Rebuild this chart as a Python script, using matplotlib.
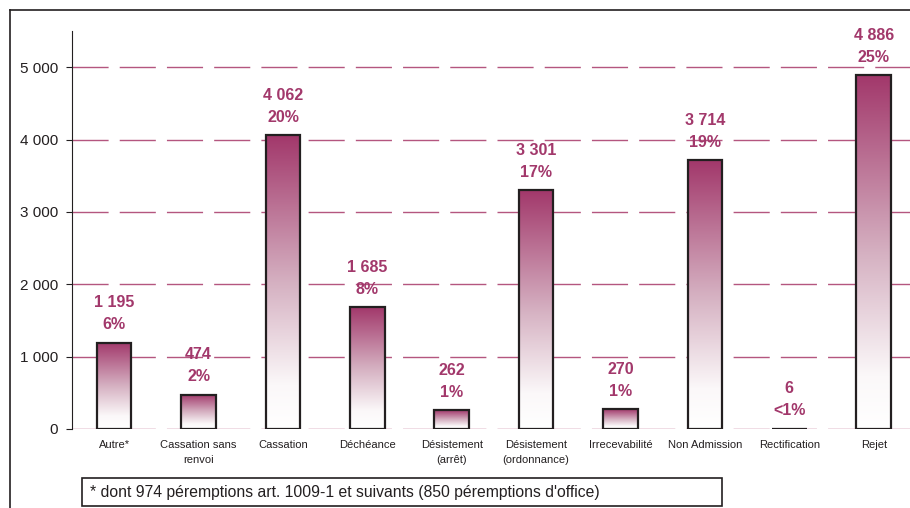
import numpy as np
import matplotlib
matplotlib.use("Agg")
import matplotlib.pyplot as plt
from matplotlib.patches import Rectangle
from matplotlib.lines import Line2D
from matplotlib.colors import LinearSegmentedColormap

plt.rcParams["font.family"] = ["Liberation Sans", "DejaVu Sans"]

# ── Données ──────────────────────────────────────────────────────────────────
categories = ["Autre*", "Cassation sans\nrenvoi", "Cassation", "Déchéance",
              "Désistement\n(arrêt)", "Désistement\n(ordonnance)", "Irrecevabilité",
              "Non Admission", "Rectification", "Rejet"]
valeurs = [1195, 474, 4062, 1685, 262, 3301, 270, 3714, 6, 4886]
libelles_val = ["1 195", "474", "4 062", "1 685", "262", "3 301", "270", "3 714", "6", "4 886"]
pourcentages = ["6%", "2%", "20%", "8%", "1%", "17%", "1%", "19%", "<1%", "25%"]
yticks = [0, 1000, 2000, 3000, 4000, 5000]
ytick_labels = ["0", "1 000", "2 000", "3 000", "4 000", "5 000"]
note = "* dont 974 péremptions art. 1009-1 et suivants (850 péremptions d'office)"

# ── Style ────────────────────────────────────────────────────────────────────
W, H = 910, 508
couleur = "#a2386b"
grille = "#b4567f"
texte = "#231f20"
cmap = LinearSegmentedColormap.from_list(
    "degrade", [(0.0, "#ffffff"), (0.15, "#fbf8f9"), (0.5, "#d5b0c1"), (1.0, couleur)])

fig = plt.figure(figsize=(W / 100, H / 100), dpi=100)
ax = fig.add_axes([72 / W, (H - 429) / H, (910 - 72) / W, 398 / H])

x = np.arange(len(categories))
largeur = 0.41
barres = ax.bar(x, valeurs, width=largeur, facecolor="none", edgecolor=texte,
                linewidth=1.6, zorder=4)

# dégradé dans chaque barre
grad = np.linspace(0, 1, 256).reshape(-1, 1)
for b in barres:
    x0, y0 = b.get_x(), b.get_y()
    w, h = b.get_width(), b.get_height()
    if h <= 0:
        continue
    im = ax.imshow(grad, cmap=cmap, aspect="auto", origin="lower",
                   extent=[x0, x0 + w, y0, y0 + h], zorder=3)
    im.set_clip_path(b)

# étiquettes de valeurs
for xi, v, lv, p in zip(x, valeurs, libelles_val, pourcentages):
    ax.annotate(lv, (xi, v), xytext=(0, 40), textcoords="offset pixels",
                ha="center", va="center", color=couleur, fontsize=11.5, fontweight="bold")
    ax.annotate(p, (xi, v), xytext=(0, 18), textcoords="offset pixels",
                ha="center", va="center", color=couleur, fontsize=11.5, fontweight="bold")

ax.set_xlim(-0.5, 9.43)
ax.set_ylim(0, 5500)
ax.set_yticks(yticks)
ax.set_yticklabels(ytick_labels, fontsize=11, color=texte)
ax.set_xticks(x)
ax.set_xticklabels(categories, fontsize=8, color=texte, linespacing=1.55)
ax.tick_params(axis="x", length=0, pad=8)
ax.tick_params(axis="y", length=4, width=0.8, color=texte, pad=6)

for y in yticks:
    ax.axhline(y, color=grille, linewidth=1.0, dashes=(26, 8), zorder=1)

for s in ["top", "right", "bottom"]:
    ax.spines[s].set_visible(False)
ax.spines["left"].set_color(texte)
ax.spines["left"].set_linewidth(0.8)
ax.set_facecolor("none")

# cadre extérieur
fig.add_artist(Line2D([10 / W, 10 / W], [0, (H - 10) / H], color=texte, linewidth=1.2))
fig.add_artist(Line2D([10 / W, 1], [(H - 10) / H, (H - 10) / H], color=texte, linewidth=1.2))

# note
fig.add_artist(Rectangle((82 / W, (H - 506) / H), 640 / W, 28 / H, transform=fig.transFigure,
                         facecolor="white", edgecolor=texte, linewidth=1.2))
fig.text(90 / W, (H - 492) / H, note, fontsize=11.3, color=texte, va="center", ha="left")

fig.savefig("out.png", dpi=100)
